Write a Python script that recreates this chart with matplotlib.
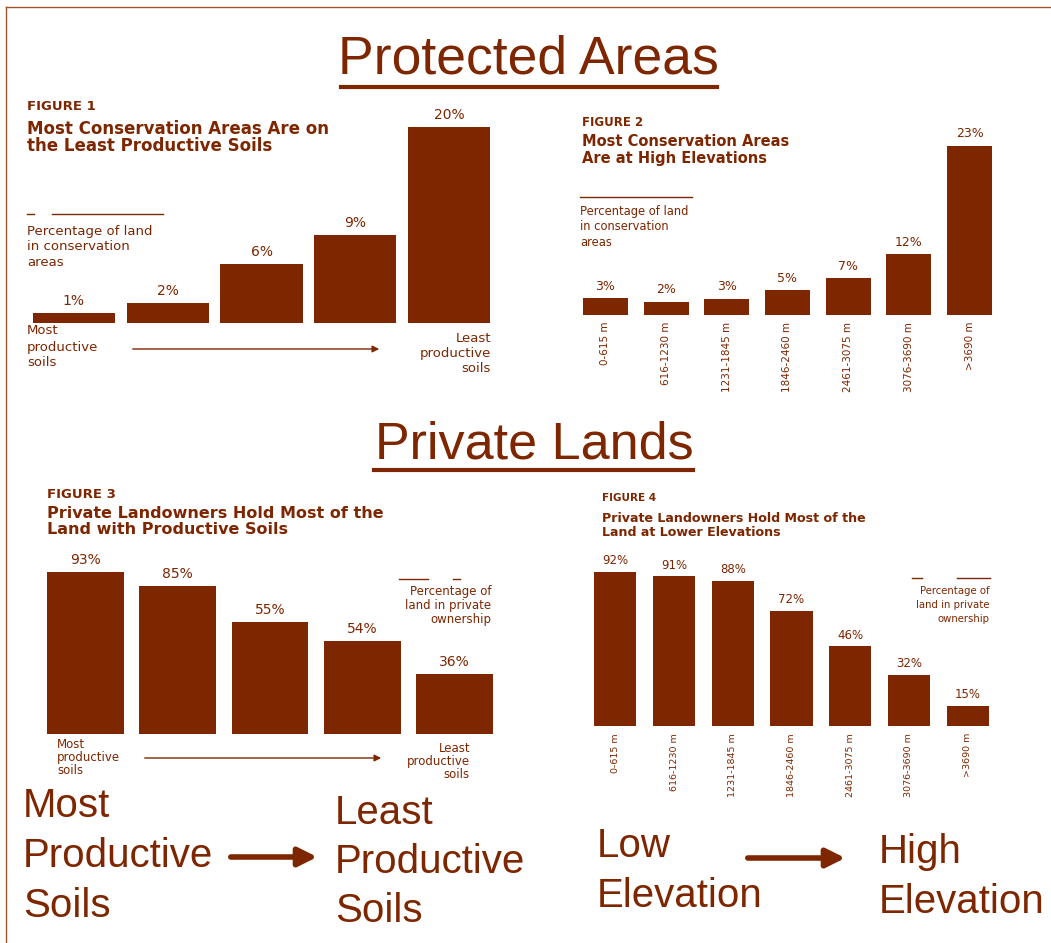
import matplotlib
matplotlib.use("Agg")
import matplotlib.pyplot as plt

# -------------------------------
# DATA
# -------------------------------
soil_pct_cons = [1, 2, 6, 9, 20]                 # figure 1 labels
soil_bar_cons = [1, 2, 6, 9, 20]                 # figure 1 bar lengths

elev_labels = ["0-615 m", "616-1230 m", "1231-1845 m", "1846-2460 m",
               "2461-3075 m", "3076-3690 m", ">3690 m"]
elev_pct_cons = [3, 2, 3, 5, 7, 12, 23]          # figure 2 labels
elev_bar_cons = [2.3, 1.8, 2.2, 3.4, 5.0, 8.3, 23]  # figure 2 bar lengths (as drawn)

soil_pct_priv = [93, 85, 55, 54, 36]             # figure 3 labels
soil_bar_priv = [93, 85, 64.3, 53.4, 34.4]       # figure 3 bar lengths (as drawn)

elev_pct_priv = [92, 91, 88, 72, 46, 32, 15]     # figure 4 labels
elev_bar_priv = [92, 89.4, 86.8, 69, 47.5, 30.5, 12]  # figure 4 bar lengths (as drawn)

BROWN = "#7d2600"
W, H = 1051, 943

fig = plt.figure(figsize=(W / 100, H / 100), dpi=100)
fig.patch.set_facecolor("white")

# background axes in pixel coords for free text / arrows
bg = fig.add_axes([0, 0, 1, 1])
bg.set_xlim(0, W)
bg.set_ylim(H, 0)
bg.axis("off")


def px_axes(left, top, right, bottom):
    return fig.add_axes([left / W, 1 - bottom / H, (right - left) / W, (bottom - top) / H])


def txt(x, y, s, size=8, weight="normal", ha="left", family="DejaVu Sans", **kw):
    bg.text(x, y, s, color=BROWN, fontsize=size, fontweight=weight, ha=ha, va="center",
            family=family, **kw)


def bar_panel(box, heights, pct, width, ymax, ticklabels=None, lab_off=12, lsize=9, tsize=7):
    ax = px_axes(*box)
    xs = list(range(len(heights)))
    ax.bar(xs, heights, width=width, color=BROWN, edgecolor="none")
    ax.set_xlim(-0.5, len(heights) - 0.5)
    ax.set_ylim(0, ymax)
    px_per_unit = (box[3] - box[1]) / ymax
    for x, h, p in zip(xs, heights, pct):
        ax.text(x, h + lab_off / px_per_unit, f"{p}%", ha="center", va="center",
                color=BROWN, fontsize=lsize, family="DejaVu Sans")
    for s in ax.spines.values():
        s.set_visible(False)
    ax.set_yticks([])
    if ticklabels:
        ax.set_xticks(xs)
        ax.set_xticklabels(ticklabels, rotation=90, color=BROWN, fontsize=tsize,
                           family="DejaVu Sans", va="top")
        ax.tick_params(axis="x", length=0, pad=5)
    else:
        ax.set_xticks([])
    ax.patch.set_alpha(0)
    return ax


# -------------------------------
# FRAME LINES
# -------------------------------
bg.plot([6, W], [7, 7], color="#a0522d", lw=1)
bg.plot([6, 6], [7, H], color="#a0522d", lw=1)

# -------------------------------
# SECTION HEADERS
# -------------------------------
txt(528, 60, "Protected Areas", size=38.5, ha="center", family="Liberation Sans")
bg.plot([341, 717], [87, 87], color=BROWN, lw=3)
txt(534, 445, "Private Lands", size=37.5, ha="center", family="Liberation Sans")
bg.plot([374, 693], [470, 470], color=BROWN, lw=3)

# -------------------------------
# FIGURE 1
# -------------------------------
txt(27, 107, "FIGURE 1", size=9.5, weight="bold")
txt(27, 129, "Most Conservation Areas Are on", size=12, weight="bold")
txt(27, 146, "the Least Productive Soils", size=12, weight="bold")
bg.plot([52, 163], [214, 214], color=BROWN, lw=1)
bg.plot([27, 34], [214, 214], color=BROWN, lw=1)
for i, s in enumerate(["Percentage of land", "in conservation", "areas"]):
    txt(27, 231 + i * 15.5, s, size=9.5)
bar_panel((27, 127, 496, 323), soil_bar_cons, soil_pct_cons, 0.875, 20, lsize=10)
for i, s in enumerate(["Most", "productive", "soils"]):
    txt(27, 331 + i * 16, s, size=9.5)
for i, s in enumerate(["Least", "productive", "soils"]):
    txt(491, 338 + i * 15.5, s, size=9.5, ha="right")
bg.annotate("", xy=(382, 349), xytext=(130, 349),
            arrowprops=dict(arrowstyle="-|>", color=BROWN, lw=1, mutation_scale=10))

# -------------------------------
# FIGURE 2
# -------------------------------
txt(582, 123, "FIGURE 2", size=8.5, weight="bold")
txt(582, 141, "Most Conservation Areas", size=10.5, weight="bold")
txt(582, 158, "Are at High Elevations", size=10.5, weight="bold")
bg.plot([580, 692], [197, 197], color=BROWN, lw=1)
for i, s in enumerate(["Percentage of land", "in conservation", "areas"]):
    txt(580, 211 + i * 16, s, size=8.3)
bar_panel((575, 146, 1000, 315), elev_bar_cons, elev_pct_cons, 0.74, 23,
          ticklabels=elev_labels, lsize=9, tsize=7.5)

# -------------------------------
# FIGURE 3
# -------------------------------
txt(47, 495, "FIGURE 3", size=9.5, weight="bold")
txt(47, 514, "Private Landowners Hold Most of the", size=11.5, weight="bold")
txt(47, 529, "Land with Productive Soils", size=11.5, weight="bold")
bg.plot([399, 428], [579, 579], color=BROWN, lw=1)
bg.plot([453, 460], [579, 579], color=BROWN, lw=1)
for i, s in enumerate(["Percentage of", "land in private", "ownership"]):
    txt(491, 591 + i * 14, s, size=8.5, ha="right")
bar_panel((39, 572, 501, 734), soil_bar_priv, soil_pct_priv, 0.83, 93, lab_off=12, lsize=10)
for i, s in enumerate(["Most", "productive", "soils"]):
    txt(57, 744 + i * 13.5, s, size=8.5)
for i, s in enumerate(["Least", "productive", "soils"]):
    txt(470, 748 + i * 13.5, s, size=8.5, ha="right")
bg.annotate("", xy=(384, 758), xytext=(142, 758),
            arrowprops=dict(arrowstyle="-|>", color=BROWN, lw=1, mutation_scale=10))

# -------------------------------
# FIGURE 4
# -------------------------------
txt(602, 498, "FIGURE 4", size=7.5, weight="bold")
txt(602, 518, "Private Landowners Hold Most of the", size=9.1, weight="bold")
txt(602, 533, "Land at Lower Elevations", size=9.1, weight="bold")
bg.plot([912, 922], [578, 578], color=BROWN, lw=1)
bg.plot([957, 990], [578, 578], color=BROWN, lw=1)
for i, s in enumerate(["Percentage of", "land in private", "ownership"]):
    txt(990, 591 + i * 14, s, size=7.3, ha="right")
bar_panel((586, 572, 997, 726), elev_bar_priv, elev_pct_priv, 0.72, 92,
          ticklabels=elev_labels, lab_off=11, lsize=8.5, tsize=6.8)

# -------------------------------
# BIG BOTTOM CAPTIONS
# -------------------------------
for i, s in enumerate(["Most", "Productive", "Soils"]):
    txt(23, 806 + i * 50, s, size=29, family="Liberation Sans")
for i, s in enumerate(["Least", "Productive", "Soils"]):
    txt(335, 813 + i * 49, s, size=29, family="Liberation Sans")
for i, s in enumerate(["Low", "Elevation"]):
    txt(597, 846 + i * 50, s, size=29, family="Liberation Sans")
for i, s in enumerate(["High", "Elevation"]):
    txt(879, 852 + i * 50, s, size=29, family="Liberation Sans")
bg.annotate("", xy=(320, 857), xytext=(228, 857),
            arrowprops=dict(arrowstyle="-|>", color=BROWN, lw=4, mutation_scale=28))
bg.annotate("", xy=(848, 858), xytext=(745, 858),
            arrowprops=dict(arrowstyle="-|>", color=BROWN, lw=4, mutation_scale=28))

fig.savefig("out.png", dpi=100, facecolor="white")
